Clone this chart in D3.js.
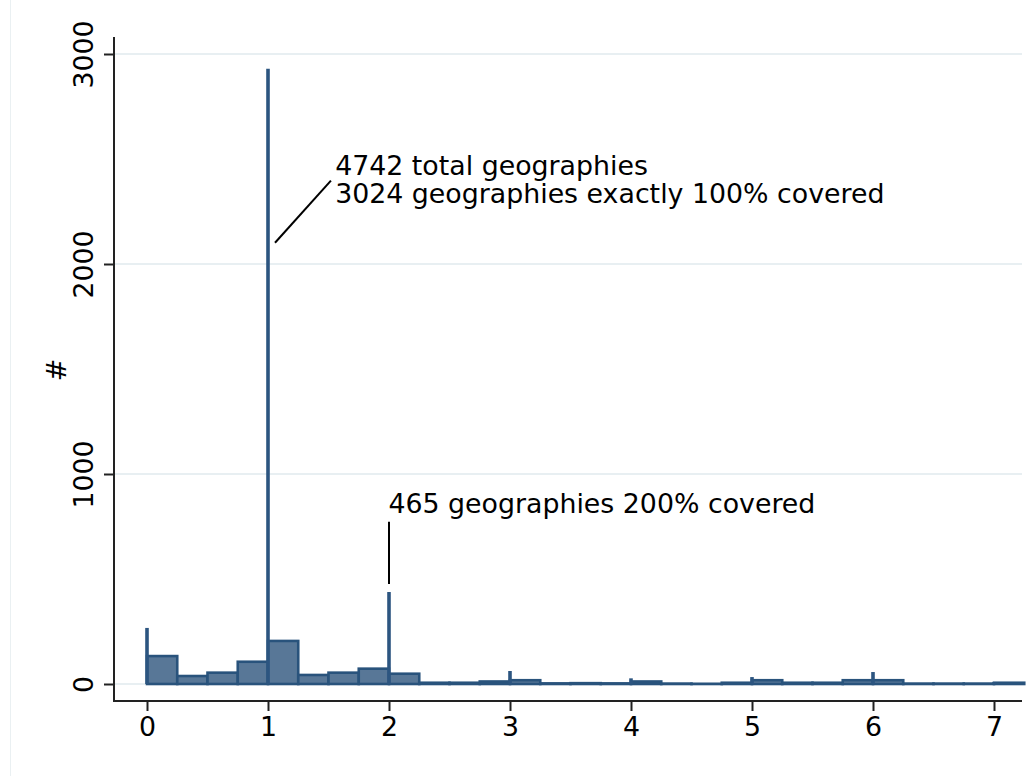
<!DOCTYPE html>
<html><head><meta charset="utf-8">
<script src="https://cdn.jsdelivr.net/npm/d3@7"></script>
<style>body{margin:0;background:#fff}svg{display:block}text{font-family:"DejaVu Sans",sans-serif;fill:#000}</style>
</head><body>
<svg id="c" width="1031" height="776"></svg>
<script>
// histogram bins (width 0.25) starting at these left edges
const binWidth = 0.25;
const binStarts = d3.range(29).map(i => i * binWidth);
const binCounts = [133, 38, 54, 106, 205, 43, 54, 73, 49, 6, 6, 12, 18, 3, 4, 3, 12, 2, 1, 6, 18, 6, 6, 18, 18, 2, 2, 2, 6];
// spikes at integer coverage values
const spikeX = [0, 1, 2, 3, 4, 5, 6, 7];
const spikeCounts = [267, 2930, 438, 62, 27, 33, 57, 9];
const xTicks = [0, 1, 2, 3, 4, 5, 6, 7];
const yTicks = [0, 1000, 2000, 3000];
const yTitle = "#";
const notes = [
  {lines: ["4742 total geographies", "3024 geographies exactly 100% covered"], tx: 1.555, ty: 2424, from: [1.058, 2101], to: [1.52, 2397]},
  {lines: ["465 geographies 200% covered"], tx: 1.995, ty: 814, from: [2, 476], to: [2, 773]}
];

const svg = d3.select("#c");
const x = d3.scaleLinear().domain([0, 7]).range([147, 994]);
const y = d3.scaleLinear().domain([0, 3000]).range([684, 54]);
const fs = 26.8;

// outer region border (faint)
svg.append("line").attr("x1", 10.5).attr("x2", 10.5).attr("y1", 0).attr("y2", 776)
  .attr("stroke", "#eaf0f2").attr("stroke-width", 1);

// gridlines
svg.append("g").selectAll("line").data(yTicks).join("line")
  .attr("x1", 114).attr("x2", 1022)
  .attr("y1", d => y(d)).attr("y2", d => y(d))
  .attr("stroke", "#e8eff2").attr("stroke-width", 2);

// bars
svg.append("g").selectAll("rect").data(binStarts).join("rect")
  .attr("x", d => x(d))
  .attr("width", d => x(d + binWidth) - x(d))
  .attr("y", (d, i) => y(binCounts[i]))
  .attr("height", (d, i) => y(0) - y(binCounts[i]))
  .attr("fill", "#587797")
  .attr("stroke", "#29537c").attr("stroke-width", 2.6);

// spikes
svg.append("g").selectAll("line").data(spikeX).join("line")
  .attr("x1", d => x(d)).attr("x2", d => x(d))
  .attr("y1", y(0)).attr("y2", (d, i) => y(spikeCounts[i]))
  .attr("stroke", "#2c5580").attr("stroke-width", 3.6);

// y axis
const yAxis = svg.append("g").attr("transform", "translate(114,0)")
  .call(d3.axisLeft(y).tickValues(yTicks).tickSize(10).tickSizeOuter(0).tickFormat(d3.format("d")));
yAxis.select(".domain").remove();
yAxis.append("line").attr("x1", 0).attr("x2", 0).attr("y1", 37).attr("y2", 701.5).attr("stroke", "#222").attr("stroke-width", 2);
yAxis.selectAll(".tick line").attr("stroke", "#222").attr("stroke-width", 2);
yAxis.selectAll(".tick text")
  .attr("font-size", fs).attr("font-family", "DejaVu Sans").attr("fill", "#000")
  .attr("x", 0).attr("y", 0).attr("dy", null)
  .attr("text-anchor", "middle")
  .attr("transform", "translate(-21,0) rotate(-90)");

// x axis
const xAxis = svg.append("g").attr("transform", "translate(0,701)")
  .call(d3.axisBottom(x).tickValues(xTicks).tickSize(10).tickSizeOuter(0).tickFormat(d3.format("d")));
xAxis.select(".domain").remove();
xAxis.append("line").attr("x1", 113).attr("x2", 1022).attr("y1", 0).attr("y2", 0).attr("stroke", "#222").attr("stroke-width", 2);
xAxis.selectAll(".tick line").attr("stroke", "#222").attr("stroke-width", 2);
xAxis.selectAll(".tick text")
  .attr("font-size", fs).attr("font-family", "DejaVu Sans").attr("fill", "#000")
  .attr("y", 35).attr("dy", null);

// y title
svg.append("text").attr("transform", "translate(66,370) rotate(-90)")
  .attr("text-anchor", "middle").attr("font-size", fs).text(yTitle);

// annotations
notes.forEach(n => {
  svg.append("line")
    .attr("x1", x(n.from[0])).attr("y1", y(n.from[1]))
    .attr("x2", x(n.to[0])).attr("y2", y(n.to[1]))
    .attr("stroke", "#000").attr("stroke-width", 2);
  n.lines.forEach((l, i) => {
    svg.append("text").attr("x", x(n.tx)).attr("y", y(n.ty) + i * 28)
      .attr("font-size", fs).text(l);
  });
});
</script>
</body></html>
